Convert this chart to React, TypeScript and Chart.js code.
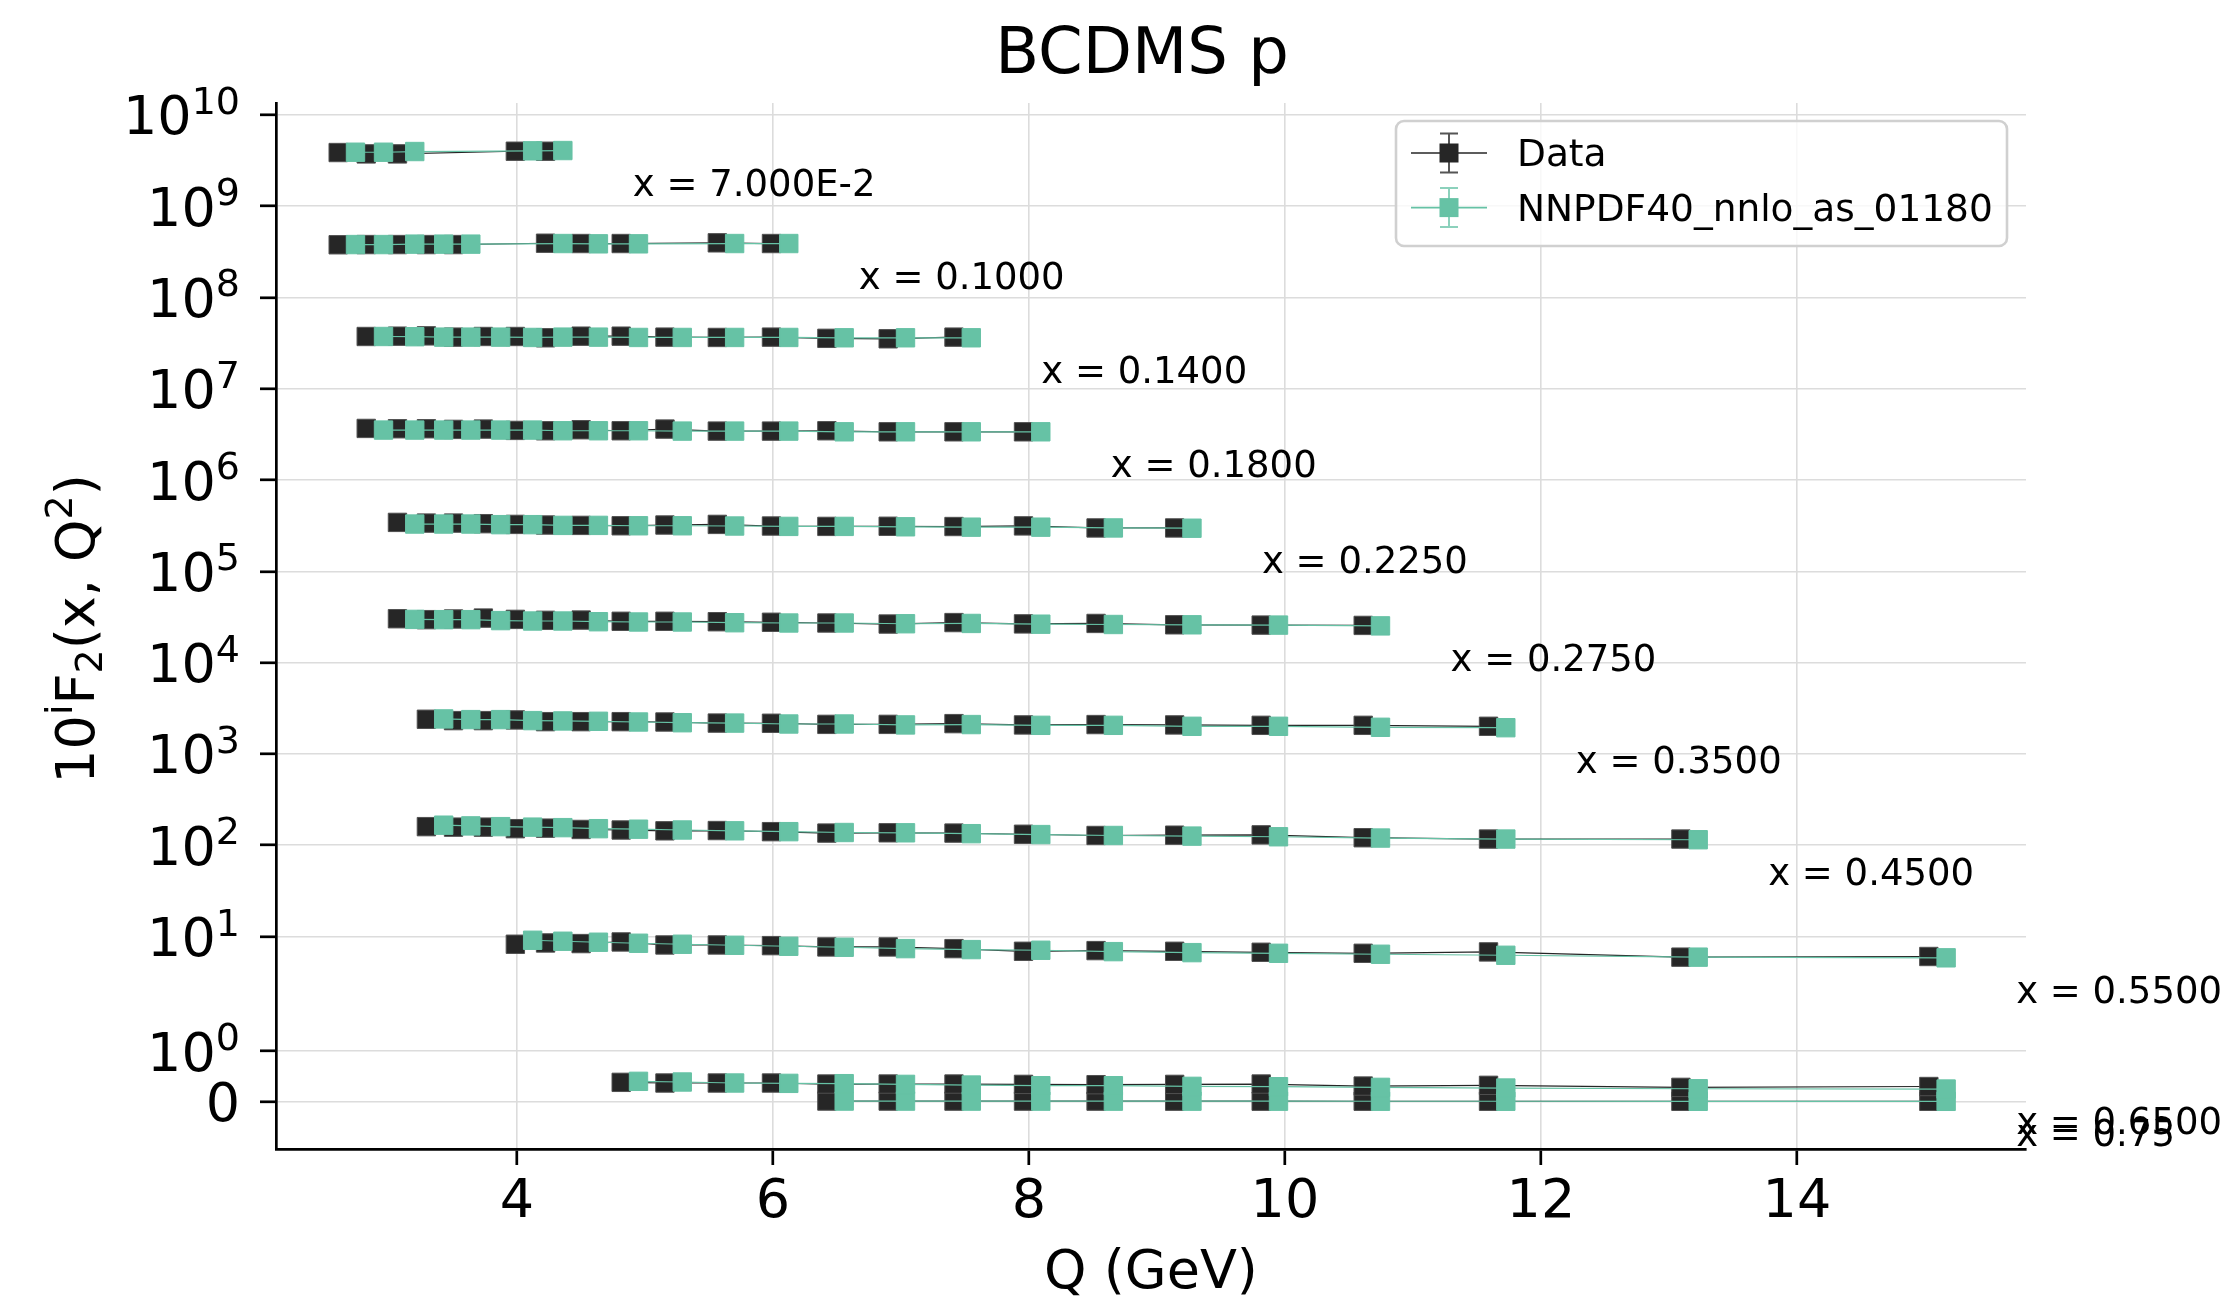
import React, { useEffect, useRef } from 'react';
import { Chart, LinearScale, registerables } from 'chart.js';

Chart.register(...registerables);

// ---------------------------------------------------------------- text & style
const FONT = '"DejaVu Sans", "Liberation Sans", sans-serif';
const TITLE = 'BCDMS p';
const X_TITLE = 'Q (GeV)';
const LEGEND_LABELS = ['Data', 'NNPDF40_nnlo_as_01180'];
const COLOR_DATA = '#262626';
const COLOR_THEORY = '#66c2a5';

// ---------------------------------------------------------------- axes
const X_MIN = 2.118;
const X_MAX = 15.79;
const X_TICKS = [4, 6, 8, 10, 12, 14];
const Y_MIN = -0.93;
const Y_MAX = 1.35e10;
const Y_TICKS = [0, 1, 1e1, 1e2, 1e3, 1e4, 1e5, 1e6, 1e7, 1e8, 1e9, 1e10];
const LINTHRESH = 2;
const LINSCALE = 1;

// ---------------------------------------------------------------- bins (x values) and the 10^i shift
const BIN_LABELS = ['x = 7.000E-2', 'x = 0.1000', 'x = 0.1400', 'x = 0.1800', 'x = 0.2250', 'x = 0.2750', 'x = 0.3500', 'x = 0.4500', 'x = 0.5500', 'x = 0.6500', 'x = 0.75'];
const BIN_EXPONENT = [10, 9, 8, 7, 6, 5, 4, 3, 2, 1, 0];

// ---------------------------------------------------------------- Q (GeV) per bin
const Q_X0070 = [2.739, 2.958, 3.202, 4.123, 4.359];
const Q_X0100 = [2.739, 2.958, 3.202, 3.428, 3.64, 4.359, 4.637, 4.95, 5.701, 6.124];
const Q_X0140 = [2.958, 3.202, 3.428, 3.64, 3.873, 4.123, 4.359, 4.637, 4.95, 5.292, 5.701, 6.124, 6.557, 7.036, 7.55];
const Q_X0180 = [2.958, 3.202, 3.428, 3.64, 3.873, 4.123, 4.359, 4.637, 4.95, 5.292, 5.701, 6.124, 6.557, 7.036, 7.55, 8.093];
const Q_X0225 = [3.202, 3.428, 3.64, 3.873, 4.123, 4.359, 4.637, 4.95, 5.292, 5.701, 6.124, 6.557, 7.036, 7.55, 8.093, 8.66, 9.274];
const Q_X0275 = [3.202, 3.428, 3.64, 3.873, 4.123, 4.359, 4.637, 4.95, 5.292, 5.701, 6.124, 6.557, 7.036, 7.55, 8.093, 8.66, 9.274, 9.95, 10.747];
const Q_X0350 = [3.428, 3.64, 3.873, 4.123, 4.359, 4.637, 4.95, 5.292, 5.701, 6.124, 6.557, 7.036, 7.55, 8.093, 8.66, 9.274, 9.95, 10.747, 11.726];
const Q_X0450 = [3.428, 3.64, 3.873, 4.123, 4.359, 4.637, 4.95, 5.292, 5.701, 6.124, 6.557, 7.036, 7.55, 8.093, 8.66, 9.274, 9.95, 10.747, 11.726, 13.229];
const Q_X0550 = [4.123, 4.359, 4.637, 4.95, 5.292, 5.701, 6.124, 6.557, 7.036, 7.55, 8.093, 8.66, 9.274, 9.95, 10.747, 11.726, 13.229, 15.166];
const Q_X0650 = [4.95, 5.292, 5.701, 6.124, 6.557, 7.036, 7.55, 8.093, 8.66, 9.274, 9.95, 10.747, 11.726, 13.229, 15.166];
const Q_X0750 = [6.557, 7.036, 7.55, 8.093, 8.66, 9.274, 9.95, 10.747, 11.726, 13.229, 15.166];

// ---------------------------------------------------------------- F2 data per bin
const DATA_X0070 = [0.387, 0.374, 0.374, 0.4, 0.4];
const DATA_X0100 = [0.378, 0.38, 0.38, 0.38, 0.38, 0.393, 0.39, 0.39, 0.397, 0.39];
const DATA_X0140 = [0.374, 0.377, 0.38, 0.368, 0.374, 0.374, 0.362, 0.377, 0.377, 0.368, 0.365, 0.368, 0.357, 0.353, 0.368];
const DATA_X0180 = [0.368, 0.365, 0.365, 0.359, 0.362, 0.35, 0.347, 0.356, 0.347, 0.362, 0.344, 0.344, 0.347, 0.338, 0.338, 0.338];
const DATA_X0225 = [0.344, 0.338, 0.338, 0.333, 0.327, 0.322, 0.319, 0.316, 0.322, 0.327, 0.314, 0.311, 0.312, 0.31, 0.315, 0.299, 0.299];
const DATA_X0275 = [0.303, 0.296, 0.301, 0.308, 0.298, 0.291, 0.293, 0.284, 0.284, 0.281, 0.277, 0.272, 0.265, 0.275, 0.266, 0.269, 0.26, 0.258, 0.256];
const DATA_X0350 = [0.24, 0.232, 0.232, 0.236, 0.226, 0.226, 0.226, 0.224, 0.218, 0.217, 0.211, 0.211, 0.215, 0.208, 0.21, 0.208, 0.206, 0.206, 0.201];
const DATA_X0450 = [0.16, 0.158, 0.158, 0.152, 0.154, 0.149, 0.147, 0.144, 0.145, 0.141, 0.136, 0.137, 0.136, 0.132, 0.128, 0.129, 0.13, 0.121, 0.117, 0.117];
const DATA_X0550 = [0.0824, 0.0851, 0.0838, 0.0873, 0.0809, 0.0809, 0.0796, 0.077, 0.077, 0.0738, 0.069, 0.0702, 0.069, 0.0673, 0.0656, 0.0679, 0.0595, 0.0605];
const DATA_X0650 = [0.0384, 0.0371, 0.0371, 0.0371, 0.0351, 0.0351, 0.0351, 0.0344, 0.0338, 0.0344, 0.0351, 0.0311, 0.0325, 0.0285, 0.0302];
const DATA_X0750 = [0.0155, 0.015, 0.0143, 0.014, 0.0137, 0.0128, 0.0124, 0.0118, 0.0114, 0.0108, 0.01];

// ---------------------------------------------------------------- F2 theory (NNPDF4.0) per bin
const TH_X0070 = [0.39, 0.39, 0.397, 0.404, 0.407];
const TH_X0100 = [0.38, 0.38, 0.384, 0.384, 0.384, 0.39, 0.387, 0.387, 0.39, 0.39];
const TH_X0140 = [0.374, 0.372, 0.368, 0.368, 0.368, 0.365, 0.368, 0.368, 0.365, 0.365, 0.365, 0.365, 0.362, 0.362, 0.362];
const TH_X0180 = [0.353, 0.353, 0.353, 0.353, 0.353, 0.353, 0.347, 0.347, 0.347, 0.344, 0.344, 0.344, 0.338, 0.338, 0.338, 0.338];
const TH_X0225 = [0.33, 0.33, 0.33, 0.325, 0.325, 0.319, 0.319, 0.316, 0.316, 0.314, 0.311, 0.311, 0.308, 0.305, 0.305, 0.299, 0.297];
const TH_X0275 = [0.298, 0.296, 0.296, 0.289, 0.286, 0.286, 0.281, 0.279, 0.279, 0.274, 0.272, 0.272, 0.267, 0.269, 0.264, 0.262, 0.26, 0.258, 0.253];
const TH_X0350 = [0.242, 0.238, 0.238, 0.232, 0.23, 0.228, 0.224, 0.22, 0.218, 0.213, 0.213, 0.208, 0.21, 0.206, 0.206, 0.201, 0.201, 0.196, 0.194];
const TH_X0450 = [0.166, 0.163, 0.16, 0.158, 0.156, 0.152, 0.15, 0.147, 0.144, 0.141, 0.138, 0.137, 0.134, 0.131, 0.128, 0.126, 0.124, 0.12, 0.117, 0.115];
const TH_X0550 = [0.0911, 0.0889, 0.0867, 0.0845, 0.0824, 0.0803, 0.0783, 0.0764, 0.0738, 0.072, 0.0708, 0.0684, 0.0667, 0.0656, 0.064, 0.0624, 0.0595, 0.0585];
const TH_X0650 = [0.0404, 0.0391, 0.0371, 0.0364, 0.0358, 0.0344, 0.0331, 0.0318, 0.0318, 0.0305, 0.0298, 0.0285, 0.0272, 0.0258, 0.0252];
const TH_X0750 = [0.015, 0.0146, 0.0142, 0.0137, 0.0133, 0.0128, 0.0124, 0.0118, 0.0113, 0.0106, 0.0098];

const BIN_Q = [Q_X0070, Q_X0100, Q_X0140, Q_X0180, Q_X0225, Q_X0275, Q_X0350, Q_X0450, Q_X0550, Q_X0650, Q_X0750];
const BIN_DATA = [DATA_X0070, DATA_X0100, DATA_X0140, DATA_X0180, DATA_X0225, DATA_X0275, DATA_X0350, DATA_X0450, DATA_X0550, DATA_X0650, DATA_X0750];
const BIN_THEORY = [TH_X0070, TH_X0100, TH_X0140, TH_X0180, TH_X0225, TH_X0275, TH_X0350, TH_X0450, TH_X0550, TH_X0650, TH_X0750];

// display-only horizontal offset of the data markers (GeV), as in the original plot
const DATA_X_SHIFT = -0.135;

// ---------------------------------------------------------------- symlog scale
const LINSCALE_ADJ = LINSCALE / (1 - 1 / 10);
function symlog(v: number) {
  const a = Math.abs(v);
  if (a <= LINTHRESH) return (v * LINSCALE_ADJ) / LINTHRESH;
  return Math.sign(v) * (LINSCALE_ADJ + Math.log10(a / LINTHRESH));
}
function symlogInv(t: number) {
  const a = Math.abs(t);
  if (a <= LINSCALE_ADJ) return (t * LINTHRESH) / LINSCALE_ADJ;
  return Math.sign(t) * LINTHRESH * Math.pow(10, a - LINSCALE_ADJ);
}

class SymLogScale extends (LinearScale as any) {
  static id = 'symlog';
  static defaults = {};
  buildTicks() {
    const vals: number[] = (this as any).options.tickValues || [];
    return vals.filter((v) => v >= (this as any).min && v <= (this as any).max).map((v) => ({ value: v }));
  }
  getPixelForValue(value: number) {
    const t0 = symlog((this as any).min);
    const t1 = symlog((this as any).max);
    return (this as any).getPixelForDecimal((symlog(value) - t0) / (t1 - t0));
  }
  getValueForPixel(pixel: number) {
    const t0 = symlog((this as any).min);
    const t1 = symlog((this as any).max);
    return symlogInv(t0 + (this as any).getDecimalForPixel(pixel) * (t1 - t0));
  }
}
Chart.register(SymLogScale as any);

// ---------------------------------------------------------------- plugins (text that Chart.js cannot typeset)
const yTickLabelPlugin = {
  id: 'yTickLabels',
  afterDraw(chart: any) {
    const ctx = chart.ctx;
    const y = chart.scales.y;
    const right = y.right - 16 - 20;
    ctx.save();
    ctx.fillStyle = '#000';
    ctx.textBaseline = 'alphabetic';
    ctx.textAlign = 'left';
    for (const t of y.ticks) {
      const py = y.getPixelForValue(t.value);
      if (t.value === 0) {
        ctx.font = `54px ${FONT}`;
        const w = ctx.measureText('0').width;
        ctx.fillText('0', right - w, py + 19.5);
        continue;
      }
      const exp = String(Math.round(Math.log10(t.value)));
      ctx.font = `38px ${FONT}`;
      const ew = ctx.measureText(exp).width;
      ctx.font = `54px ${FONT}`;
      const bw = ctx.measureText('10').width;
      ctx.fillText('10', right - ew - bw, py + 19.5);
      ctx.font = `38px ${FONT}`;
      ctx.fillText(exp, right - ew, py - 1);
    }
    ctx.restore();
  },
};

const yTitlePlugin = {
  id: 'yTitle',
  afterDraw(chart: any) {
    const ctx = chart.ctx;
    const area = chart.chartArea;
    const segs: [string, number, number][] = [
      ['10', 54, 0],
      ['i', 38, -22],
      ['F', 54, 0],
      ['2', 38, 8],
      ['(x, Q', 54, 0],
      ['2', 38, -22],
      [')', 54, 0],
    ];
    ctx.save();
    let total = 0;
    const widths = segs.map(([s, f]) => {
      ctx.font = `${f}px ${FONT}`;
      const w = ctx.measureText(s).width;
      total += w;
      return w;
    });
    const cy = (area.top + area.bottom) / 2 + 3;
    ctx.translate(94, cy);
    ctx.rotate(-Math.PI / 2);
    ctx.fillStyle = '#000';
    ctx.textBaseline = 'alphabetic';
    ctx.textAlign = 'left';
    let x = -total / 2;
    segs.forEach(([s, f, dy], i) => {
      ctx.font = `${f}px ${FONT}`;
      ctx.fillText(s, x, dy);
      x += widths[i];
    });
    ctx.restore();
  },
};

const titlePlugin = {
  id: 'mplTitle',
  afterDraw(chart: any) {
    const ctx = chart.ctx;
    const area = chart.chartArea;
    ctx.save();
    ctx.font = `64px ${FONT}`;
    ctx.fillStyle = '#000';
    ctx.textAlign = 'center';
    ctx.textBaseline = 'alphabetic';
    ctx.fillText(TITLE, (area.left + area.right) / 2 - 9, area.top - 30);
    ctx.restore();
  },
};

const binLabelPlugin = {
  id: 'binLabels',
  afterDraw(chart: any) {
    const ctx = chart.ctx;
    ctx.save();
    ctx.font = `37px ${FONT}`;
    ctx.fillStyle = '#000';
    ctx.textAlign = 'left';
    ctx.textBaseline = 'alphabetic';
    BIN_LABELS.forEach((label, i) => {
      const meta = chart.getDatasetMeta(2 * i + 1);
      const last = meta.data[meta.data.length - 1];
      if (!last) return;
      ctx.fillText(label, last.x + 70, last.y + 45);
    });
    ctx.restore();
  },
};

function drawHandle(ctx: any, cx: number, cy: number, color: string, errColor: string) {
  ctx.strokeStyle = color;
  ctx.lineWidth = 1.6;
  ctx.beginPath();
  ctx.moveTo(cx - 38, cy);
  ctx.lineTo(cx + 38, cy);
  ctx.stroke();
  ctx.strokeStyle = errColor;
  ctx.lineWidth = 2;
  ctx.beginPath();
  ctx.moveTo(cx, cy - 19.5);
  ctx.lineTo(cx, cy + 19.5);
  ctx.moveTo(cx - 9, cy - 19.5);
  ctx.lineTo(cx + 9, cy - 19.5);
  ctx.moveTo(cx - 9, cy + 19.5);
  ctx.lineTo(cx + 9, cy + 19.5);
  ctx.stroke();
  ctx.fillStyle = color;
  ctx.fillRect(cx - 9.5, cy - 9.5, 19, 19);
}

const legendPlugin = {
  id: 'mplLegend',
  afterDraw(chart: any) {
    const ctx = chart.ctx;
    const area = chart.chartArea;
    const w = 611;
    const h = 125;
    const x0 = area.right - 19 - w;
    const y0 = area.top + 18;
    ctx.save();
    const r = 8;
    ctx.beginPath();
    ctx.moveTo(x0 + r, y0);
    ctx.arcTo(x0 + w, y0, x0 + w, y0 + h, r);
    ctx.arcTo(x0 + w, y0 + h, x0, y0 + h, r);
    ctx.arcTo(x0, y0 + h, x0, y0, r);
    ctx.arcTo(x0, y0, x0 + w, y0, r);
    ctx.closePath();
    ctx.fillStyle = 'rgba(255,255,255,0.8)';
    ctx.fill();
    ctx.strokeStyle = '#d0d0d0';
    ctx.lineWidth = 2.6;
    ctx.stroke();
    const rows = [y0 + 32, y0 + 86.6];
    drawHandle(ctx, x0 + 53, rows[0], COLOR_DATA, '#555555');
    drawHandle(ctx, x0 + 53, rows[1], COLOR_THEORY, 'rgba(102,194,165,0.75)');
    ctx.font = `37.5px ${FONT}`;
    ctx.fillStyle = '#000';
    ctx.textAlign = 'left';
    ctx.textBaseline = 'alphabetic';
    ctx.fillText(LEGEND_LABELS[0], x0 + 121, rows[0] + 13.3);
    ctx.fillText(LEGEND_LABELS[1], x0 + 121, rows[1] + 13.3);
    ctx.restore();
  },
};

// ---------------------------------------------------------------- datasets
function buildDatasets() {
  const ds: any[] = [];
  BIN_LABELS.forEach((label, i) => {
    const scale = Math.pow(10, BIN_EXPONENT[i]);
    const q = BIN_Q[i];
    ds.push({
      label: `Data ${label}`,
      data: q.map((Q, k) => ({ x: Q + DATA_X_SHIFT, y: BIN_DATA[i][k] * scale })),
      borderColor: COLOR_DATA,
      backgroundColor: COLOR_DATA,
      pointBackgroundColor: COLOR_DATA,
      pointBorderColor: '#505050',
      pointBorderWidth: 1,
      pointStyle: 'rect',
      pointRadius: 13,
      borderWidth: 1.2,
      order: 2,
    });
    ds.push({
      label: `${LEGEND_LABELS[1]} ${label}`,
      data: q.map((Q, k) => ({ x: Q, y: BIN_THEORY[i][k] * scale })),
      borderColor: COLOR_THEORY,
      backgroundColor: COLOR_THEORY,
      pointBackgroundColor: COLOR_THEORY,
      pointBorderColor: COLOR_THEORY,
      pointBorderWidth: 1,
      pointStyle: 'rect',
      pointRadius: 13,
      borderWidth: 1.2,
      order: 1,
    });
  });
  return ds;
}

const GRID_COLOR = '#dcdcdc';

export default function App() {
  const ref = useRef<HTMLCanvasElement>(null);
  useEffect(() => {
    document.body.style.margin = '0';
    const canvas = ref.current;
    if (!canvas) return;
    const chart = new Chart(canvas, {
      type: 'line',
      data: { datasets: buildDatasets() },
      options: {
        animation: false,
        responsive: false,
        devicePixelRatio: 1,
        parsing: true,
        layout: { padding: { top: 103, right: 212, left: 0, bottom: 0 } },
        plugins: {
          legend: { display: false },
          tooltip: { enabled: false },
          title: { display: false },
        },
        scales: {
          x: {
            type: 'linear',
            min: X_MIN,
            max: X_MAX,
            bounds: 'data',
            afterBuildTicks: (s: any) => {
              s.ticks = X_TICKS.map((v) => ({ value: v }));
            },
            ticks: {
              autoSkip: false,
              maxRotation: 0,
              color: '#000',
              padding: 6,
              font: { family: FONT, size: 54 },
              callback: (v: any) => String(v),
            },
            grid: { color: GRID_COLOR, lineWidth: 1.6, drawTicks: true, tickLength: 16, tickWidth: 2.7, tickColor: '#000' },
            border: { display: true, color: '#000', width: 2.7 },
            title: { display: true, text: X_TITLE, color: '#000', font: { family: FONT, size: 54, lineHeight: 1.12 }, padding: { top: 0, bottom: 1 } },
            afterFit: (s: any) => {
              s.height = 156;
            },
          } as any,
          y: {
            type: 'symlog',
            position: 'left',
            min: Y_MIN,
            max: Y_MAX,
            tickValues: Y_TICKS,
            ticks: { display: false, callback: () => '' },
            grid: { color: GRID_COLOR, lineWidth: 1.6, drawTicks: true, tickLength: 16, tickWidth: 2.7, tickColor: '#000' },
            border: { display: true, color: '#000', width: 2.7 },
            afterFit: (s: any) => {
              s.width = 276;
            },
          } as any,
        },
      },
      plugins: [yTickLabelPlugin, yTitlePlugin, titlePlugin, binLabelPlugin, legendPlugin],
    } as any);
    return () => chart.destroy();
  }, []);
  return (
    <div style={{ width: 2238, height: 1305, background: '#fff' }}>
      <canvas ref={ref} width={2238} height={1305} style={{ display: 'block' }} />
    </div>
  );
}
